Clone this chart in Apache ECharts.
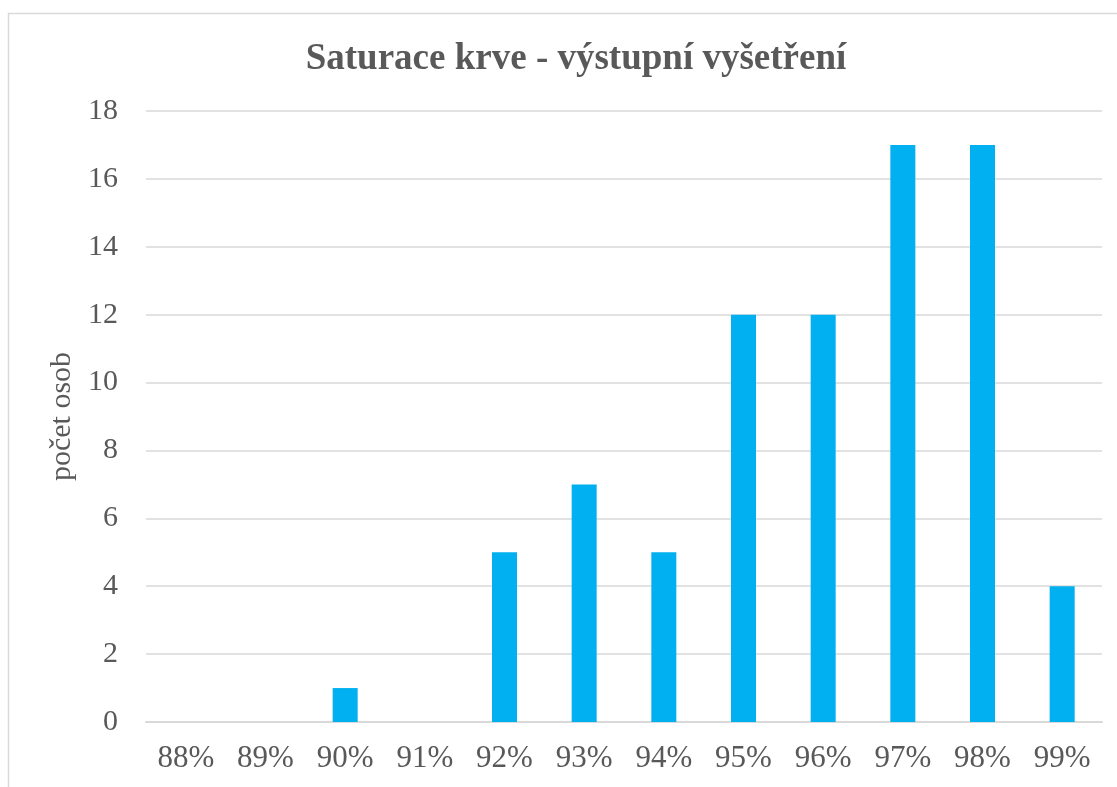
<!DOCTYPE html>
<html><head><meta charset="utf-8">
<script src="https://cdn.jsdelivr.net/npm/echarts@6/dist/echarts.min.js"></script>
<style>html,body{margin:0;padding:0;background:#fff}#c{width:1117px;height:787px}</style>
</head><body><div id="c"></div>
<script>
const categories = ['88%','89%','90%','91%','92%','93%','94%','95%','96%','97%','98%','99%'];
const counts = [0,0,1,0,5,7,5,12,12,17,17,4];
const chart = echarts.init(document.getElementById('c'));
const font = '"Liberation Serif","Times New Roman",serif';
chart.setOption({
  animation:false,
  graphic:[{type:'rect',shape:{x:8.5,y:13.5,width:1200,height:900},style:{fill:'none',stroke:'#d9d9d9',lineWidth:1.5},silent:true}],
  title:{text:'Saturace krve - výstupní vyšetření',left:571,top:36,textAlign:'center',
    textStyle:{fontFamily:font,fontSize:37,fontWeight:'bold',color:'#595959'}},
  grid:{left:146,right:15,top:111,bottom:65},
  xAxis:{type:'category',data:categories,
    axisLine:{lineStyle:{color:'#d9d9d9',width:2}},axisTick:{show:false},
    axisLabel:{fontFamily:font,fontSize:31,color:'#595959',margin:21}},
  yAxis:{type:'value',min:0,max:18,interval:2,name:'počet osob',nameLocation:'middle',nameGap:63,
    nameTextStyle:{fontFamily:font,fontSize:30,color:'#595959'},
    axisLine:{show:false},axisTick:{show:false},
    splitLine:{lineStyle:{color:'#d9d9d9',width:1.5}},
    axisLabel:{fontFamily:font,fontSize:30,color:'#595959',margin:28}},
  series:[{type:'bar',data:counts,barWidth:25,itemStyle:{color:'#00B0F0'}}]
});
</script></body></html>
